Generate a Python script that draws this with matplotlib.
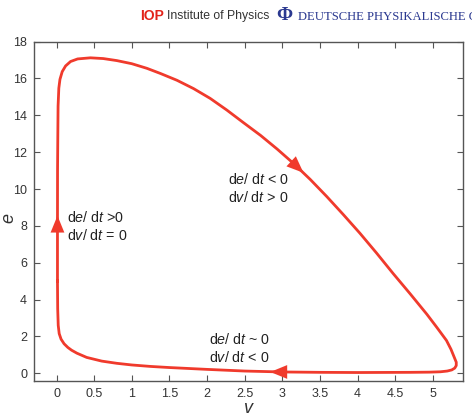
import numpy as np
import matplotlib
matplotlib.use("Agg")
import matplotlib.pyplot as plt

# ---- data (v, e), one closed loop ----
loop_v = [0.012, 0.012, 0.013, 0.016, 0.020, 0.030, 0.045, 0.075, 0.12, 0.186, 0.28, 0.45,
          0.62, 0.80, 1.00, 1.20, 1.38, 1.60, 1.82, 2.04, 2.26, 2.48, 2.71, 2.93, 3.15,
          3.37, 3.59, 3.81, 4.03, 4.25, 4.47, 4.70, 4.92, 5.05, 5.18, 5.24, 5.28, 5.31,
          5.31, 5.29, 5.25, 5.19, 5.10, 4.95, 4.70, 4.00, 3.50, 3.00, 2.50, 2.00, 1.50,
          1.25, 1.00, 0.80, 0.60, 0.40, 0.27, 0.20, 0.15, 0.10, 0.06, 0.035, 0.022,
          0.015, 0.012]
loop_e = [5.0, 8.0, 11.0, 12.6, 14.5, 15.47, 15.95, 16.37, 16.68, 16.92, 17.06, 17.12,
          17.08, 16.97, 16.80, 16.55, 16.27, 15.90, 15.45, 14.92, 14.29, 13.61, 12.91, 12.17, 11.38,
          10.52, 9.59, 8.61, 7.60, 6.53, 5.42, 4.30, 3.20, 2.50, 1.78, 1.30, 0.90, 0.60,
          0.42, 0.28, 0.18, 0.12, 0.08, 0.06, 0.05, 0.04, 0.05, 0.07, 0.12, 0.21, 0.31,
          0.37, 0.45, 0.54, 0.66, 0.86, 1.09, 1.25, 1.40, 1.60, 1.85, 2.15, 2.60,
          3.50, 5.0]

# arrow heads: base -> tip
arrow_base_v = [0.012, 3.12, 3.03]
arrow_base_e = [7.75, 11.49, 0.07]
arrow_tip_v = [0.012, 3.28, 2.84]
arrow_tip_e = [8.55, 10.88, 0.07]

labels = ["d$e$/ d$t$ >0\nd$v$/ d$t$ = 0",
          "d$e$/ d$t$ < 0\nd$v$/ d$t$ > 0",
          "d$e$/ d$t$ ~ 0\nd$v$/ d$t$ < 0"]
label_v = [0.14, 2.28, 2.02]
label_e = [7.94, 10.03, 1.37]

xticks = np.arange(0, 5.01, 0.5)
xtick_labels = ["0", "0.5", "1", "1.5", "2", "2.5", "3", "3.5", "4", "4.5", "5"]
yticks = np.arange(0, 19, 2)

RED = "#f03a2c"
GREY = "#555555"

plt.rcParams["font.family"] = ["Liberation Sans", "DejaVu Sans"]
plt.rcParams["mathtext.fontset"] = "custom"
plt.rcParams["mathtext.it"] = "Liberation Sans:italic"
plt.rcParams["mathtext.rm"] = "Liberation Sans"

fig = plt.figure(figsize=(4.72, 4.19), dpi=100)
ax = fig.add_axes([0.072, 0.0907, 0.909, 0.81])

ax.plot(loop_v, loop_e, color=RED, lw=2.0, solid_joinstyle="round")
for bv, be, tv, te in zip(arrow_base_v, arrow_base_e, arrow_tip_v, arrow_tip_e):
    ax.annotate("", xy=(tv, te), xytext=(bv, be),
                arrowprops=dict(arrowstyle="-|>,head_length=1.1,head_width=0.45",
                                mutation_scale=11, color=RED, lw=0.01,
                                shrinkA=0, shrinkB=0))

for txt, lv, le in zip(labels, label_v, label_e):
    ax.text(lv, le, txt, fontsize=10.3, color="#222222", va="center", ha="left",
            linespacing=1.25)

ax.set_xlim(-0.3, 5.4)
ax.set_ylim(-0.42, 18)
ax.set_xticks(xticks)
ax.set_xticklabels(xtick_labels)
ax.set_yticks(yticks)
ax.tick_params(direction="in", length=4, width=0.8, color=GREY, labelcolor="#333333",
               labelsize=9, top=True, right=True, pad=5)
for s in ax.spines.values():
    s.set_color(GREY)
    s.set_linewidth(1.0)

ax.set_xlabel("$v$", fontsize=13, color="#333333", labelpad=0)
ax.set_ylabel("$e$", fontsize=13, color="#333333", rotation=90)
ax.yaxis.set_label_coords(-0.038, 0.48)

# ---- header ----
fig.text(0.297, 0.962, "IOP", color="#e2231a", fontsize=10, fontweight="bold",
         va="center", ha="left")
fig.text(0.354, 0.962, "Institute of Physics", color="#333333", fontsize=8.8,
         va="center", ha="left")
fig.text(0.585, 0.962, "\u03a6", color="#2b3990", fontsize=14, fontweight="bold",
         family=["Liberation Serif", "DejaVu Serif"], va="center", ha="left")
fig.text(0.631, 0.960, "DEUTSCHE PHYSIKALISCHE GESELLSCHAFT", color="#2b3990",
         fontsize=9.1, family=["Liberation Serif", "DejaVu Serif"], va="center", ha="left")

fig.savefig("out.png", dpi=100)
